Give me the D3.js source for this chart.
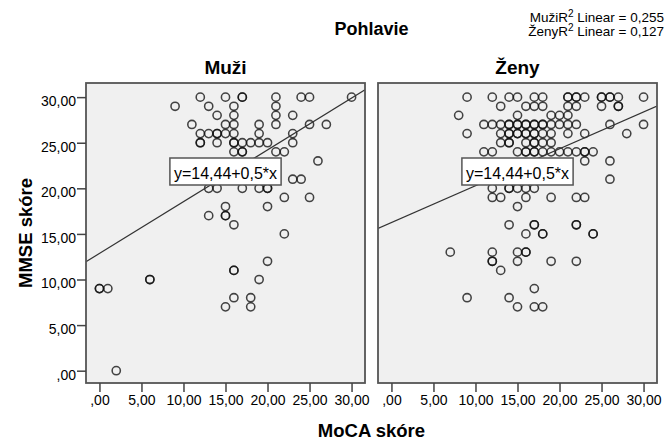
<!DOCTYPE html>
<html>
<head>
<meta charset="utf-8">
<script src="https://cdn.jsdelivr.net/npm/d3@7/dist/d3.min.js"></script>
<style>
  body { margin: 0; background: #ffffff; }
  text { font-family: "Liberation Sans", Arial, sans-serif; fill: #000; }
</style>
</head>
<body>
<svg id="chart" width="669" height="443"></svg>
<script>
// Group panels
const panels = ["Muži", "Ženy"];

// MoCA / MMSE scores per respondent, [MoCA, MMSE]
const muzi = [
  [9,29],[12,30],[13,29],[14,28],[15,30],[16,29],[17,30],[17,30],[16,28],[15,27],[16,27],[11,27],
  [12,26],[13,26],[14,26],[14,26],[15,26],[16,26],[12,25],[12,25],[14,25],[16,25],[16,25],[17,25],[18,25],[19,25],[20,25],
  [19,27],[19,26],[21,30],[21,29],[21,28],[21,27],[23,28],[24,30],[25,30],[30,30],[25,27],[27,27],
  [23,26],[23,25],[21,24],[22,24],[16,24],[17,24],[17,24],[26,23],[23,21],[24,21],
  [13,20],[14,20],[17,20],[19,20],[20,20],[20,20],[22,19],[25,19],[15,18],[20,18],
  [13,17],[15,17],[15,17],[16,16],[22,15],[20,12],[16,11],[16,11],[19,10],
  [16,8],[18,8],[15,7],[18,7],[6,10],[6,10],[0,9],[0,9],[1,9],[2,0]
];
const zeny = [
  [9,30],[12,30],[14,30],[15,30],[17,30],[18,30],[21,30],[21,30],[22,30],[22,30],[23,30],[25,30],[25,30],[26,30],[26,30],[27,30],[30,30],
  [13,29],[16,29],[17,29],[18,29],[21,29],[22,29],[25,29],[27,29],[27,29],
  [8,28],[15,28],[19,28],[20,28],[21,28],
  [11,27],[12,27],[13,27],[14,27],[14,27],[15,27],[15,27],[16,27],[16,27],[17,27],[17,27],[18,27],[18,27],[19,27],[20,27],[21,27],[22,27],[26,27],[30,27],
  [9,26],[13,26],[14,26],[14,26],[15,26],[15,26],[16,26],[16,26],[17,26],[17,26],[18,26],[19,26],[21,26],[23,26],[28,26],
  [13,25],[14,25],[14,25],[16,25],[17,25],[17,25],[18,25],[19,25],
  [11,24],[12,24],[15,24],[16,24],[16,24],[17,24],[17,24],[18,24],[19,24],[20,24],[21,24],[22,24],[23,24],[23,24],[24,24],
  [23,23],[26,23],[26,21],
  [12,20],[14,20],[14,20],[15,20],[16,20],[17,20],
  [12,19],[13,19],[16,19],[19,19],[22,19],[23,19],[15,18],
  [14,16],[17,16],[17,16],[22,16],[22,16],[16,15],[18,15],[18,15],[24,15],[24,15],
  [7,13],[12,13],[15,13],[16,13],[16,13],[12,12],[12,12],[15,12],[19,12],[22,12],[13,11],
  [17,9],[9,8],[14,8],[15,7],[17,7],[18,7]
];
const panelData = [muzi, zeny];

// Linear fit per panel: MMSE = intercept + slope * MoCA
const fitIntercept = [12.86, 16.25];
const fitSlope = [0.568, 0.404];
const fitLabel = "y=14,44+0,5*x";
const rSquared = ["0,255", "0,127"];

// Axes
const tickValues = [0, 5, 10, 15, 20, 25, 30];
const tickLabels = [",00", "5,00", "10,00", "15,00", "20,00", "25,00", "30,00"];
const xTitle = "MoCA skóre";
const yTitle = "MMSE skóre";
const groupTitle = "Pohlavie";

const svg = d3.select("#chart");
const panelLeft = [86, 378];
const panelW = 279;
const panelTop = 83;
const panelH = 300;

const y = d3.scaleLinear().domain([-1.35, 31.55]).range([panelTop + panelH, panelTop]);
const tickFmt = d => tickLabels[tickValues.indexOf(d)];

panels.forEach((name, i) => {
  const x0 = panelLeft[i];
  const x = d3.scaleLinear().domain([-1.6, 31.6]).range([x0, x0 + panelW]);
  const g = svg.append("g");

  const clipId = "clip" + i;
  svg.append("defs").append("clipPath").attr("id", clipId)
    .append("rect").attr("x", x0).attr("y", panelTop).attr("width", panelW).attr("height", panelH);

  g.append("rect")
    .attr("x", x0).attr("y", panelTop).attr("width", panelW).attr("height", panelH)
    .attr("fill", "#f0f0f0");

  const plot = g.append("g").attr("clip-path", `url(#${clipId})`);

  plot.selectAll("circle").data(panelData[i]).join("circle")
    .attr("cx", d => x(d[0]))
    .attr("cy", d => y(d[1]))
    .attr("r", 4.1)
    .attr("fill", "none")
    .attr("stroke", "#111")
    .attr("stroke-opacity", 0.78)
    .attr("stroke-width", 1.55);

  const [dx0, dx1] = x.domain();
  plot.append("line")
    .attr("x1", x(dx0)).attr("y1", y(fitIntercept[i] + fitSlope[i] * dx0))
    .attr("x2", x(dx1)).attr("y2", y(fitIntercept[i] + fitSlope[i] * dx1))
    .attr("stroke", "#333").attr("stroke-width", 1.2);

  // equation label box
  const lg = g.append("g");
  const lt = lg.append("text")
    .attr("x", x0 + panelW / 2).attr("y", 178.5)
    .attr("text-anchor", "middle")
    .attr("font-size", 16)
    .text(fitLabel);
  const bb = lt.node().getBBox();
  lg.insert("rect", "text")
    .attr("x", bb.x - 4).attr("y", 158)
    .attr("width", bb.width + 8).attr("height", 27)
    .attr("fill", "#fff").attr("stroke", "#555").attr("stroke-width", 1.5);

  g.append("rect")
    .attr("x", x0).attr("y", panelTop).attr("width", panelW).attr("height", panelH)
    .attr("fill", "none").attr("stroke", "#555").attr("stroke-width", 1.8);

  // x axis
  const xAxis = g.append("g")
    .attr("transform", `translate(0,${panelTop + panelH})`)
    .call(d3.axisBottom(x).tickValues(tickValues).tickFormat(tickFmt).tickSize(9).tickPadding(3));
  xAxis.select(".domain").remove();
  xAxis.selectAll(".tick line").attr("stroke", "#444").attr("stroke-width", 1.5);
  xAxis.selectAll(".tick text").attr("font-size", 14).attr("font-family", "Liberation Sans, Arial, sans-serif").attr("fill", "#000");

  // y axis on the first panel only
  if (i === 0) {
    const yAxis = g.append("g")
      .attr("transform", `translate(${x0},0)`)
      .call(d3.axisLeft(y).tickValues(tickValues).tickFormat(tickFmt).tickSize(9).tickPadding(1));
    yAxis.select(".domain").remove();
    yAxis.selectAll(".tick line").attr("stroke", "#444").attr("stroke-width", 1.5);
    yAxis.selectAll(".tick text").attr("font-size", 14).attr("dy", "0.6em")
      .attr("font-family", "Liberation Sans, Arial, sans-serif").attr("fill", "#000");
  }

  // panel title
  svg.append("text")
    .attr("x", x0 + panelW / 2).attr("y", 74)
    .attr("text-anchor", "middle")
    .attr("font-size", 19).attr("font-weight", "bold")
    .text(name);
});

// group title
svg.append("text")
  .attr("x", panelLeft[0] + (panelLeft[1] + panelW - panelLeft[0]) / 2).attr("y", 35)
  .attr("text-anchor", "middle")
  .attr("font-size", 18).attr("font-weight", "bold")
  .text(groupTitle);

// axis titles
svg.append("text")
  .attr("x", panelLeft[0] + (panelLeft[1] + panelW - panelLeft[0]) / 2).attr("y", 437)
  .attr("text-anchor", "middle")
  .attr("font-size", 18.5).attr("font-weight", "bold")
  .text(xTitle);
svg.append("text")
  .attr("transform", `translate(32,${panelTop + panelH / 2}) rotate(-90)`)
  .attr("text-anchor", "middle")
  .attr("font-size", 18.5).attr("font-weight", "bold")
  .text(yTitle);

// R² legend
const legend = svg.append("g");
panels.forEach((name, i) => {
  const t = legend.append("text")
    .attr("x", 664).attr("y", 22 + i * 14)
    .attr("text-anchor", "end")
    .attr("font-size", 13.5);
  t.append("tspan").text(name + "R");
  t.append("tspan").attr("dy", -5).attr("font-size", 10).text("2");
  t.append("tspan").attr("dy", 5).text(" Linear = " + rSquared[i]);
});
</script>
</body>
</html>
